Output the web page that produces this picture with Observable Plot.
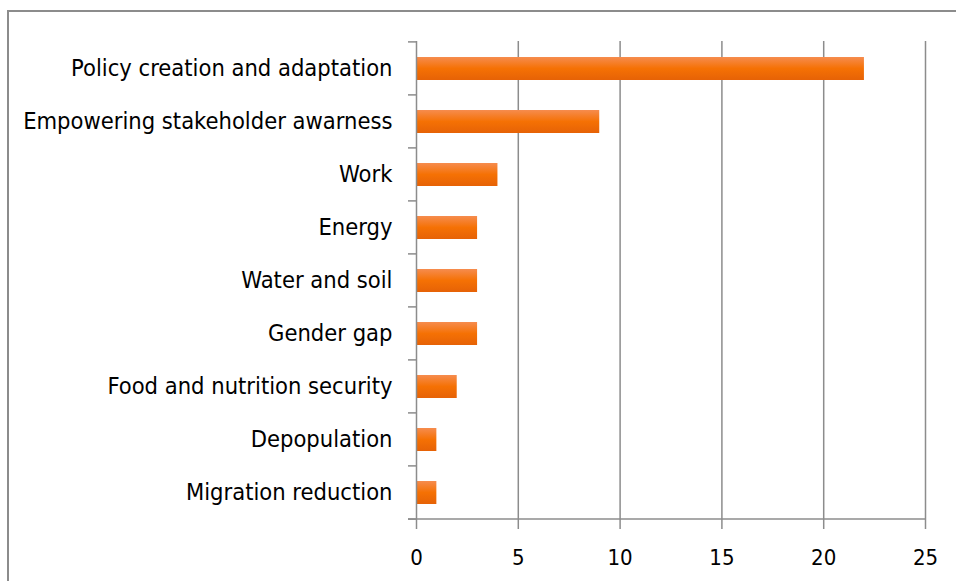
<!DOCTYPE html>
<html>
<head>
<meta charset="utf-8">
<script src="https://cdn.jsdelivr.net/npm/d3@7"></script>
<script src="https://cdn.jsdelivr.net/npm/@observablehq/plot@0.6"></script>
<style>
  html, body { margin: 0; padding: 0; background: #fff; }
  #wrap { position: relative; width: 956px; height: 581px; overflow: hidden; }
  #frame { position: absolute; left: 7px; top: 10px; width: 1000px; height: 1000px;
           border-top: 2px solid #8c8c8c; border-left: 2px solid #8c8c8c; }
  #chart { position: absolute; left: 0; top: 0; }
</style>
</head>
<body>
<div id="wrap"><div id="frame"></div><div id="chart"></div></div>
<script>
const categories = [
  "Policy creation and adaptation",
  "Empowering stakeholder awarness",
  "Work",
  "Energy",
  "Water and soil",
  "Gender gap",
  "Food and nutrition security",
  "Depopulation",
  "Migration reduction"
];
const values = [22, 9, 4, 3, 3, 3, 2, 1, 1];
const xTicks = [0, 5, 10, 15, 20, 25];

const data = categories.map((c, i) => ({category: c, value: values[i]}));
const FONT = "'DejaVu Sans Condensed', 'DejaVu Sans', sans-serif";

const plot = Plot.plot({
  width: 956,
  height: 581,
  marginLeft: 416,
  marginRight: 31,
  marginTop: 41,
  marginBottom: 61,
  style: {fontFamily: FONT, fontSize: "20px", color: "#000", background: "transparent"},
  x: {domain: [0, 25], ticks: xTicks, label: null},
  y: {domain: categories, paddingInner: 0.57, paddingOuter: 0.285, align: 0.5, label: null},
  marks: [
    Plot.gridX(xTicks.filter(t => t > 0), {stroke: "#8c8c8c", strokeOpacity: 1, strokeWidth: 1.5}),
    Plot.barX(data, {x: "value", y: "category", fill: "url(#barGrad)"}),
    Plot.axisX({ticks: xTicks, label: null, tickSize: 9, tickPadding: 20, stroke: "#8c8c8c", strokeWidth: 1.5, fill: "#000", fontSize: 22}),
    Plot.axisY({tickSize: 0, tickPadding: 24, label: null, fill: "#000", fontSize: 23.5, dy: -0.5}),
    Plot.ruleX([0], {stroke: "#8c8c8c", strokeWidth: 1.5})
  ]
});

const svg = d3.select(plot);
// gradient for bars
const defs = svg.insert("defs", ":first-child");
const g = defs.append("linearGradient").attr("id", "barGrad").attr("x1", 0).attr("y1", 0).attr("x2", 0).attr("y2", 1);
g.append("stop").attr("offset", "0%").attr("stop-color", "#f68c4e");
g.append("stop").attr("offset", "50%").attr("stop-color", "#f57104");
g.append("stop").attr("offset", "100%").attr("stop-color", "#e66206");

// category boundary ticks and bottom axis line, from the scales
const ys = plot.scale("y");
const xs = plot.scale("x");
const x0 = xs.apply(0), x1 = xs.apply(25);
const bounds = categories.map(c => ys.apply(c) - ys.paddingInner * ys.step / 2);
const yBottom = ys.apply(categories[categories.length - 1]) + ys.bandwidth + ys.paddingInner * ys.step / 2;
bounds.push(yBottom);
const gg = svg.append("g").attr("stroke", "#8c8c8c").attr("stroke-width", 1.5);
gg.selectAll("line.bt").data(bounds).join("line").attr("class", "bt")
  .attr("x1", x0 - 8).attr("x2", x0).attr("y1", d => d).attr("y2", d => d);
gg.append("line").attr("x1", x0 - 8).attr("x2", x1).attr("y1", yBottom).attr("y2", yBottom);

document.getElementById("chart").appendChild(plot);
</script>
</body>
</html>
